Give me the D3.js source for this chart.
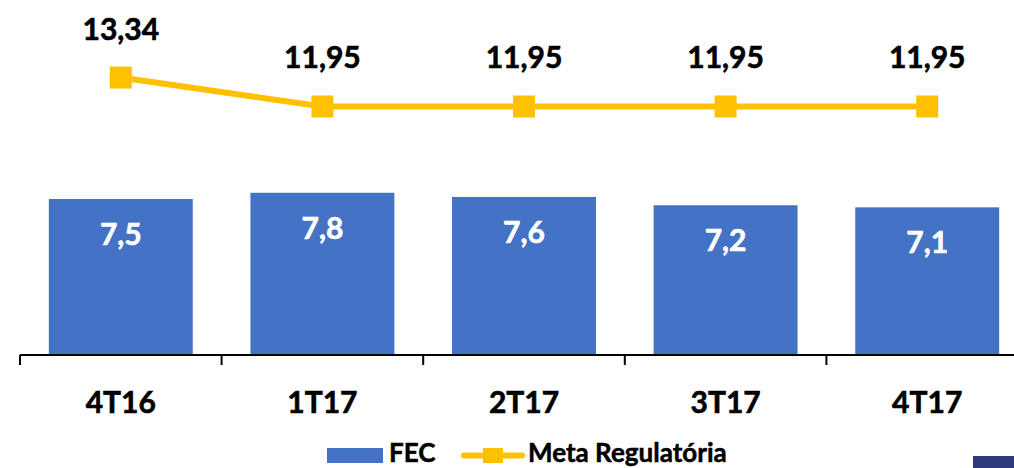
<!DOCTYPE html>
<html>
<head>
  <script src="https://d3js.org/d3.v7.min.js"></script>
  <style>
  html, body {
    margin: 0px;
    background: #fff;
    font-family: Lato, sans-serif;
  }
  text { font-weight: bold; }
  </style>
</head>
<body>
  <svg id="chart" width="1014" height="468"></svg>
  <script>
  // data
  var categories = ['4T16', '1T17', '2T17', '3T17', '4T17'];
  var fecValues = [7.5, 7.8, 7.6, 7.2, 7.1];
  var metaValues = [13.34, 11.95, 11.95, 11.95, 11.95];

  var blue = '#4472C4', gold = '#FFC000';
  var fmt = function(v, d) { return v.toFixed(d).replace('.', ','); };

  var svg = d3.select('#chart');

  var x = d3.scaleBand()
    .domain(categories)
    .range([20, 1028])
    .paddingInner(0.286)
    .paddingOuter(0.143);

  var y = d3.scaleLinear()
    .domain([0, 17.07])
    .range([355, 0]);

  // bars
  svg.selectAll('rect.bar')
    .data(fecValues)
    .enter().append('rect')
    .attr('class', 'bar')
    .attr('x', function(d, i) { return x(categories[i]); })
    .attr('y', function(d) { return y(d); })
    .attr('width', x.bandwidth())
    .attr('height', function(d) { return y(0) - y(d); })
    .attr('fill', blue);

  svg.selectAll('text.barlabel')
    .data(fecValues)
    .enter().append('text')
    .attr('class', 'barlabel')
    .attr('x', function(d, i) { return x(categories[i]) + x.bandwidth() / 2; })
    .attr('y', function(d) { return y(d) + 46; })
    .attr('text-anchor', 'middle')
    .attr('fill', '#fff')
    .attr('stroke', '#fff').attr('stroke-width', 0.6)
    .style('font-size', '30px')
    .text(function(d) { return fmt(d, 1); });

  // x axis with ticks between the categories
  var axis = svg.append('g');
  axis.append('line')
    .attr('x1', 20).attr('x2', 1014)
    .attr('y1', y(0)).attr('y2', y(0))
    .attr('stroke', '#000').attr('stroke-width', 2);

  var bounds = d3.range(categories.length + 1).map(function(i) { return 20 + i * x.step(); });
  axis.selectAll('line.tick')
    .data(bounds)
    .enter().append('line')
    .attr('class', 'tick')
    .attr('x1', function(d) { return d; }).attr('x2', function(d) { return d; })
    .attr('y1', y(0)).attr('y2', y(0) + 10)
    .attr('stroke', '#000').attr('stroke-width', 2);

  axis.selectAll('text.cat')
    .data(categories)
    .enter().append('text')
    .attr('class', 'cat')
    .attr('x', function(d) { return x(d) + x.bandwidth() / 2; })
    .attr('y', 413)
    .attr('text-anchor', 'middle')
    .attr('stroke', '#000').attr('stroke-width', 0.6)
    .style('font-size', '30px')
    .text(function(d) { return d; });

  // meta regulatoria line
  var line = d3.line()
    .x(function(d, i) { return x(categories[i]) + x.bandwidth() / 2; })
    .y(function(d) { return y(d); });

  svg.append('path')
    .datum(metaValues)
    .attr('d', line)
    .attr('fill', 'none')
    .attr('stroke', gold)
    .attr('stroke-width', 6);

  svg.selectAll('rect.marker')
    .data(metaValues)
    .enter().append('rect')
    .attr('class', 'marker')
    .attr('x', function(d, i) { return x(categories[i]) + x.bandwidth() / 2 - 11; })
    .attr('y', function(d) { return y(d) - 11; })
    .attr('width', 22).attr('height', 22)
    .attr('fill', gold);

  svg.selectAll('text.metalabel')
    .data(metaValues)
    .enter().append('text')
    .attr('class', 'metalabel')
    .attr('x', function(d, i) { return x(categories[i]) + x.bandwidth() / 2; })
    .attr('y', function(d) { return y(d) - 38; })
    .attr('text-anchor', 'middle')
    .attr('stroke', '#000').attr('stroke-width', 0.6)
    .style('font-size', '30px')
    .text(function(d) { return fmt(d, 2); });

  // legend
  var legend = svg.append('g');
  legend.append('rect')
    .attr('x', 327).attr('y', 448).attr('width', 56).attr('height', 15)
    .attr('fill', blue);
  legend.append('text')
    .attr('x', 389).attr('y', 462)
    .attr('stroke', '#000').attr('stroke-width', 0.5)
    .style('font-size', '26px')
    .text('FEC');
  legend.append('line')
    .attr('x1', 464).attr('x2', 522).attr('y1', 455.5).attr('y2', 455.5)
    .attr('stroke', gold).attr('stroke-width', 6).attr('stroke-linecap', 'round');
  legend.append('rect')
    .attr('x', 483).attr('y', 448).attr('width', 20).attr('height', 15)
    .attr('fill', gold);
  legend.append('text')
    .attr('x', 528).attr('y', 462)
    .attr('stroke', '#000').attr('stroke-width', 0.5)
    .style('font-size', '26px')
    .text('Meta Regulatória');

  // dark block in the corner
  svg.append('rect')
    .attr('x', 973).attr('y', 456).attr('width', 41).attr('height', 12)
    .attr('fill', '#2f3a7e');
  </script>
</body>
</html>
